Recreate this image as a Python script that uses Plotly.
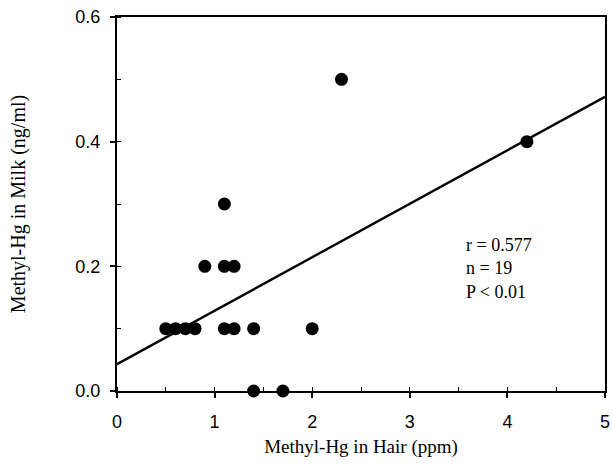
import plotly.graph_objects as go

hair_ppm = [0.5, 0.6, 0.7, 0.8, 1.1, 1.2, 1.4, 2.0, 0.9, 1.1, 1.2, 1.1, 1.4, 1.7, 2.3, 4.2]
milk_ngml = [0.1, 0.1, 0.1, 0.1, 0.1, 0.1, 0.1, 0.1, 0.2, 0.2, 0.2, 0.3, 0.0, 0.0, 0.5, 0.4]

fit_x = [0, 5]
fit_y = [0.043, 0.472]

x_ticks = [0, 1, 2, 3, 4, 5]
y_ticks = [0.0, 0.2, 0.4, 0.6]
y_tick_labels = ["0.0", "0.2", "0.4", "0.6"]

stats_text = "r = 0.577<br>n = 19<br>P < 0.01"

fig = go.Figure()
fig.add_trace(go.Scatter(x=fit_x, y=fit_y, mode="lines",
                         line=dict(color="black", width=2.4), showlegend=False))
fig.add_trace(go.Scatter(x=hair_ppm, y=milk_ngml, mode="markers",
                         marker=dict(color="black", size=13), showlegend=False,
                         cliponaxis=False))

axis_common = dict(showgrid=False, zeroline=False, showline=True, linecolor="black",
                   linewidth=2, mirror=True, ticks="outside", ticklen=5, tickwidth=1.5,
                   tickcolor="black", ticklabeloverflow="allow",
                   tickfont=dict(family="Liberation Sans, Arial", size=18, color="black"))

fig.update_xaxes(range=[0, 5], tickvals=x_ticks, ticklabelstandoff=8,
                 minor=dict(dtick=0.5, ticks="inside", ticklen=4, tickcolor="black", tickwidth=1),
                 title=dict(text="Methyl-Hg in Hair (ppm)", standoff=9,
                            font=dict(family="Liberation Serif, Times New Roman", size=19, color="black")),
                 **axis_common)
fig.update_yaxes(range=[0, 0.6], tickvals=y_ticks, ticktext=y_tick_labels, ticklabelstandoff=6,
                 minor=dict(dtick=0.1, ticks="inside", ticklen=4, tickcolor="black", tickwidth=1),
                 title=dict(text="Methyl-Hg in Milk (ng/ml)", standoff=44,
                            font=dict(family="Liberation Serif, Times New Roman", size=20, color="black")),
                 **axis_common)

fig.add_annotation(x=3.56, y=0.197, xref="x", yref="y", text=stats_text, showarrow=False,
                   align="left", xanchor="left", yanchor="middle",
                   font=dict(family="Liberation Serif, Times New Roman", size=18, color="black"))

fig.update_layout(width=613, height=469, margin=dict(l=117, r=3, t=17, b=78),
                  plot_bgcolor="white", paper_bgcolor="white")

fig.write_html("out.html")
